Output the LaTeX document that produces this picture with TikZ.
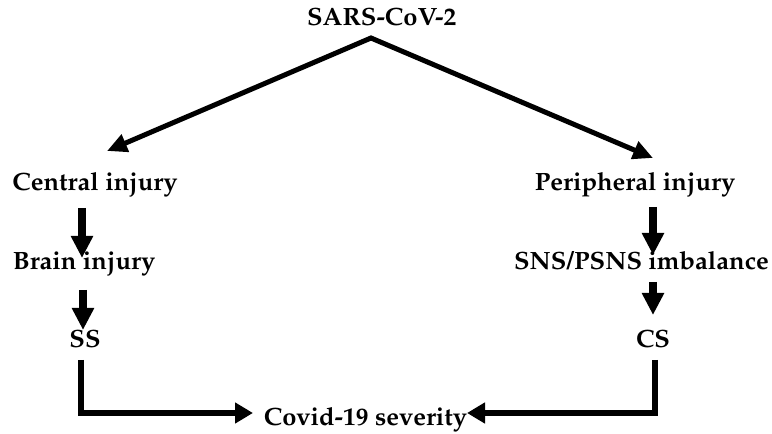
\documentclass[tikz,border=0pt]{standalone}
\usepackage[T1]{fontenc}
\usepackage{graphicx}
\renewcommand{\rmdefault}{ppl}
\usetikzlibrary{arrows.meta}
\newcommand{\wlab}[1]{\scalebox{1.02}[1]{#1}}
\tikzset{
  lab/.style={font=\fontsize{25}{29}\selectfont\bfseries, inner sep=0pt, anchor=base},
  diag/.style={line width=5pt, line join=miter, {Triangle[length=20pt,width=18pt]}-{Triangle[length=20pt,width=18pt]}},
  vert/.style={line width=8pt, -{Triangle[length=22pt,width=21pt]}},
  bottom/.style={line width=6.5pt, line join=miter, -{Triangle[length=18pt,width=20pt]}}
}
\begin{document}
\begin{tikzpicture}[x=1pt,y=1pt]
\useasboundingbox (0,0) rectangle (772,434);
\fill[white] (0,0) rectangle (772,434);

\node[lab] (sars) at (381.7,408) {\wlab{SARS-CoV-2}};
\node[lab] (central) at (95,243) {\wlab{Central injury}};
\node[lab] (periph) at (635,243) {\wlab{Peripheral injury}};
\node[lab] (brain) at (84,164) {\wlab{Brain injury}};
\node[lab] (sns) at (641.5,164) {\wlab{SNS/PSNS imbalance}};
\node[lab] (ss) at (85,86) {\wlab{SS}};
\node[lab] (cs) at (653,86) {\wlab{CS}};
\node[lab] (covid) at (365.5,8) {\wlab{Covid-19 severity}};

\coordinate (apex) at (371,396);
\coordinate (ltip) at (107,283);
\coordinate (rtip) at (653,276);
\draw[diag] (ltip) -- (apex) -- (rtip);

\coordinate (c1) at (82,226);
\coordinate (b1) at (82,176);
\coordinate (b2) at (83,144);
\coordinate (s1) at (83,104);
\draw[vert] (c1) -- (b1);
\draw[vert] (b2) -- (s1);

\coordinate (p1) at (653,227);
\coordinate (n1) at (653,179);
\coordinate (n2) at (653,152);
\coordinate (cs1) at (653,119);
\draw[vert] (p1) -- (n1);
\draw[vert] (n2) -- (cs1);

\coordinate (ssb) at (81,74);
\coordinate (csb) at (655,74);
\coordinate (covl) at (253,21);
\coordinate (covr) at (467,21);
\draw[bottom] (ssb) |- (covl);
\draw[bottom] (csb) |- (covr);
\end{tikzpicture}
\end{document}
